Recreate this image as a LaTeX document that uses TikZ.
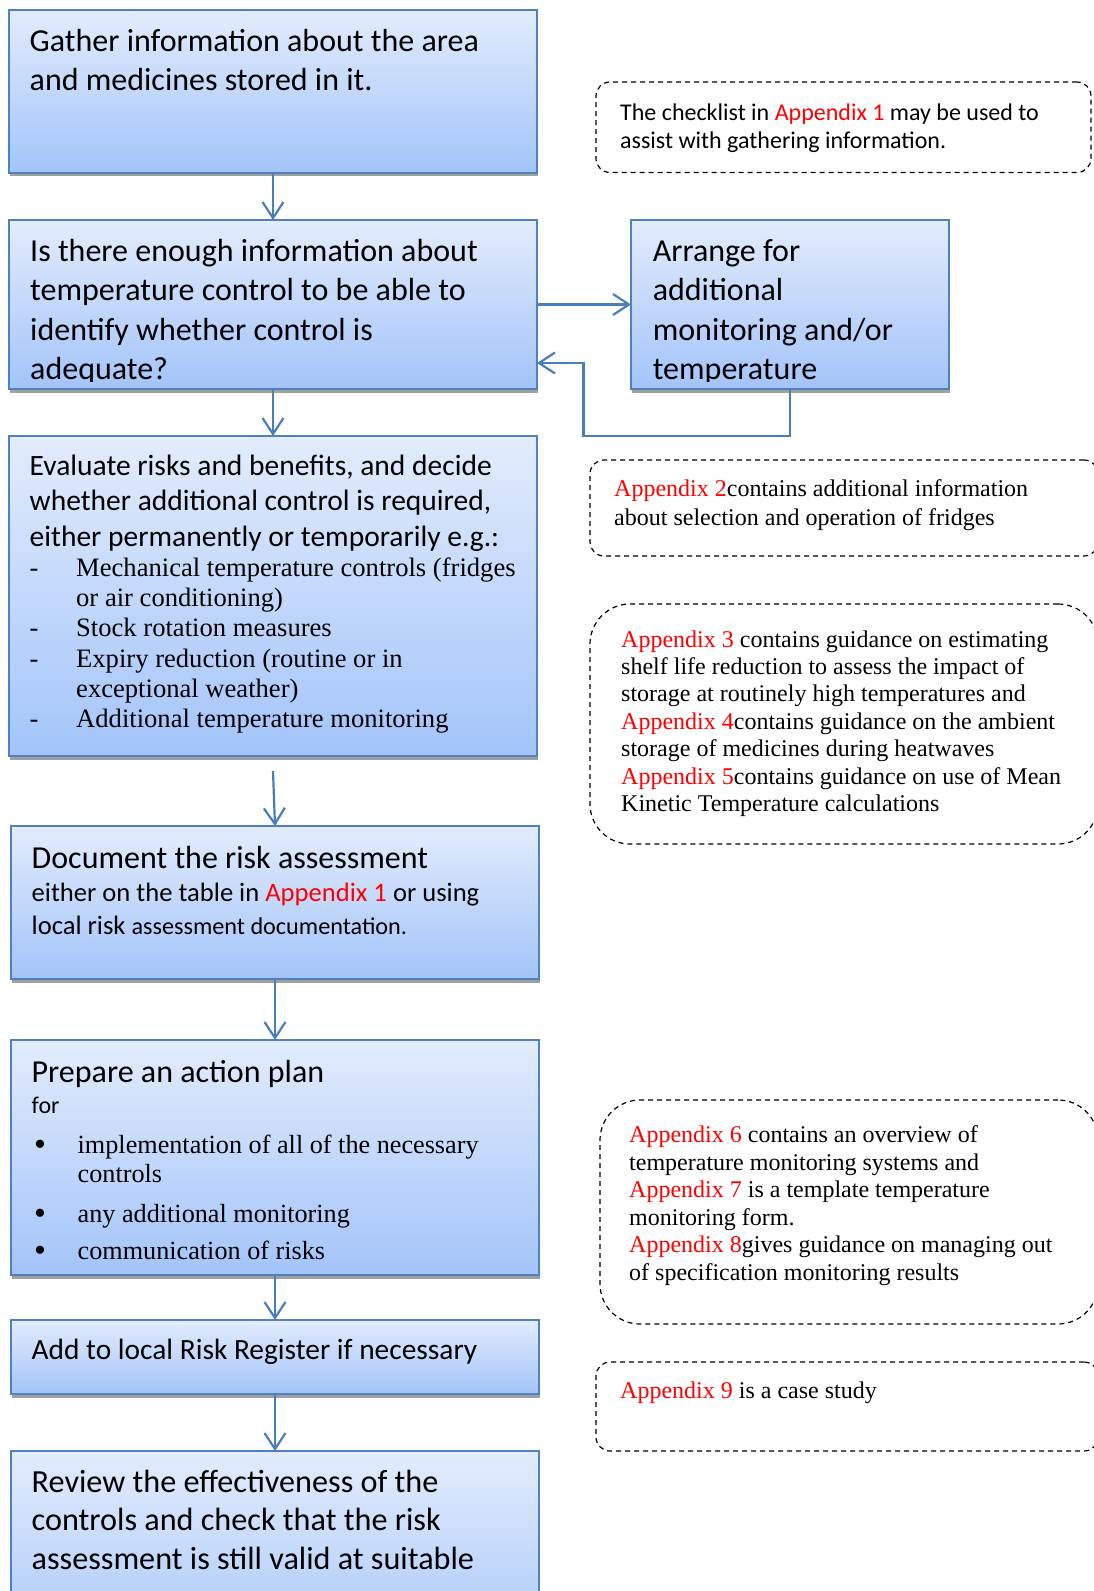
\documentclass[tikz,border=0pt]{standalone}
\usepackage{fontspec}
\setsansfont{Carlito}
\newfontfamily\notefont{Liberation Serif}
\usetikzlibrary{positioning,arrows.meta,shadows}

\definecolor{flowline}{RGB}{79,129,189}
\definecolor{flowtop}{RGB}{226,236,252}
\definecolor{flowbot}{RGB}{163,196,250}
\definecolor{flowshadow}{RGB}{160,160,160}
\definecolor{arrowblue}{RGB}{74,126,187}
\newcommand{\apx}[1]{\textcolor{red}{#1}}
\newcommand{\riskdash}{\makebox[46.5pt][l]{-}}
\newcommand{\riskbullet}{\makebox[46pt][l]{\hspace{2.5pt}\raisebox{-2pt}{\fontsize{34}{0}\selectfont\textbullet}}}

\begin{document}
\begin{tikzpicture}[x=1pt, y=-1pt,
    flow/.style = {draw=flowline, line width=2pt, top color=flowtop, bottom color=flowbot, minimum width=528pt, inner sep=0pt, outer sep=0pt, drop shadow={shadow xshift=1pt, shadow yshift=-3.5pt, fill=flowshadow, opacity=1}},
    note/.style = {draw=black, line width=1.2pt, dash pattern=on 5pt off 4pt, rounded corners=14pt, inner sep=0pt, outer sep=0pt, anchor=north west},
    txt/.style = {anchor=base west, inner sep=0pt, text width=520pt, execute at begin node={\spaceskip=0pt\xspaceskip=0pt\relax}, font=\sffamily\fontsize{32}{39.5}\selectfont},
    notetxt/.style = {txt, text width=470pt, font=\notefont\fontsize{24}{27.5}\selectfont},
    conn/.style = {draw=arrowblue, line width=2.2pt, -{Straight Barb[length=16pt, width=21pt]}}]
    \useasboundingbox (0,0) rectangle (1093,1591);

    % flow boxes
    \node[flow, minimum height=162.5pt, anchor=north west] (gather) at (9,10) {};
    \node[flow, minimum height=169pt, below right=47.5pt and 0pt of gather.south west] (enough) {};
    \node[flow, minimum width=318pt, minimum height=169pt, right=94pt of enough] (arrange) {};
    \node[flow, minimum height=320pt, below right=47pt and 0pt of enough.south west] (evaluate) {};
    \node[flow, minimum height=153pt, below right=70pt and 2pt of evaluate.south west] (document) {};
    \node[flow, minimum height=235pt, below right=61pt and 0pt of document.south west] (plan) {};
    \node[flow, minimum height=74pt, below right=45pt and 0pt of plan.south west] (register) {};
    \node[flow, minimum height=220pt, below right=57pt and 0pt of register.south west] (review) {};

    % texts of the flow boxes
    \node[txt] (gather-t) at ([xshift=20.5pt, yshift=-41pt]gather.north west) {Gather information about the area\\ and medicines stored in it.};
    \begin{scope}
      \clip (enough.north west) rectangle ([yshift=8pt]enough.south east);
      \node[txt] (enough-t) at ([xshift=21pt, yshift=-41pt]enough.north west) {Is there enough information about\\ temperature control to be able to\\ identify whether control is\\ adequate?};
    \end{scope}
    \begin{scope}
      \clip (arrange.north west) rectangle ([yshift=8pt]arrange.south east);
      \node[txt] (arrange-t) at ([xshift=21.6pt, yshift=-41pt]arrange.north west) {Arrange for\\ additional\\ monitoring and/or\\ temperature};
    \end{scope}
    \node[txt] (evaluate-t) at ([xshift=20.5pt, yshift=-39pt]evaluate.north west) {{\fontsize{29.5}{35.5}\selectfont Evaluate risks and benefits, and decide\\ whether additional control is required,\\ either permanently or temporarily e.g.:\par}
      {\notefont\fontsize{26.6}{30.3}\selectfont \riskdash Mechanical temperature controls (fridges\\ \hspace*{46.5pt}or air conditioning)\\ \riskdash Stock rotation measures\\ \riskdash Expiry reduction (routine or in\\ \hspace*{46.5pt}exceptional weather)\\ \riskdash Additional temperature monitoring\par}};
    \node[txt] (document-t) at ([xshift=20.5pt, yshift=-42pt]document.north west) {Document the risk assessment\par
      {\fontsize{26.6}{33}\selectfont either on the table in \apx{Appendix 1} or using\\ local risk {\fontsize{24.2}{33}\selectfont assessment documentation.}\par}};
    \node[txt] (plan-t) at ([xshift=20.5pt, yshift=-42pt]plan.north west) {Prepare an action plan\par
      {\fontsize{24}{31}\selectfont for\par}
      \vspace{11pt}
      {\notefont\fontsize{26.2}{29}\selectfont \riskbullet implementation of all of the necessary\\ \hspace*{46pt}controls\par
      \vspace{11pt}
      \riskbullet any additional monitoring\par
      \vspace{8pt}
      \riskbullet communication of risks\par}};
    \node[txt, font=\sffamily\fontsize{29.4}{38}\selectfont] (register-t) at ([xshift=20.5pt, yshift=-39pt]register.north west) {Add to local Risk Register if necessary};
    \node[txt, font=\sffamily\fontsize{32.2}{38.5}\selectfont] (review-t) at ([xshift=20.5pt, yshift=-41pt]review.north west) {Review the effectiveness of the\\ controls and check that the risk\\ assessment is still valid at suitable};

    % connectors
    \coordinate (loopback) at (583.5,436);
    \coordinate (evaluate-out) at ([yshift=-15pt]evaluate.south);
    \draw[conn] (gather) -- (enough);
    \draw[conn] (enough) -- (arrange);
    \draw[conn] (arrange.south) |- (loopback) |- ([yshift=-58.5pt]enough.east);
    \draw[conn] (enough) -- (evaluate);
    \draw[conn] (evaluate-out) -- (document.north);
    \draw[conn] (document) -- (plan);
    \draw[conn] (plan) -- (register);
    \draw[conn] (register) -- (review);

    % dashed notes
    \node[note, minimum width=495pt, minimum height=90.5pt] (checklist) at (596,82) {};
    \node[note, minimum width=508pt, minimum height=96pt] (fridges) at (590,460) {};
    \node[note, rounded corners=40pt, minimum width=508pt, minimum height=240pt] (shelflife) at (590,604) {};
    \node[note, rounded corners=40pt, minimum width=498pt, minimum height=224pt] (monitoring) at (600,1100) {};
    \node[note, minimum width=502pt, minimum height=89pt] (casestudy) at (596,1362) {};

    \node[notetxt, font=\sffamily\fontsize{24}{28.3}\selectfont] (checklist-t) at ([xshift=24pt, yshift=-38.5pt]checklist.north west) {The checklist in \apx{Appendix 1} may be used to\\ assist with gathering information.};
    \node[notetxt, font=\notefont\fontsize{24}{28.7}\selectfont] (fridges-t) at ([xshift=24pt, yshift=-36.5pt]fridges.north west) {\apx{Appendix 2}contains additional information\\ about selection and operation of fridges};
    \node[notetxt, font=\notefont\fontsize{24}{27.4}\selectfont] (shelflife-t) at ([xshift=31pt, yshift=-43pt]shelflife.north west) {\apx{Appendix 3} contains guidance on estimating\\ shelf life reduction to assess the impact of\\ storage at routinely high temperatures and\\ \apx{Appendix 4}contains guidance on the ambient\\ storage of medicines during heatwaves\\ \apx{Appendix 5}contains guidance on use of Mean\\ Kinetic Temperature calculations};
    \node[notetxt, font=\notefont\fontsize{24}{27.6}\selectfont] (monitoring-t) at ([xshift=29pt, yshift=-42.5pt]monitoring.north west) {\apx{Appendix 6} contains an overview of\\ temperature monitoring systems and\\ \apx{Appendix 7} is a template temperature\\ monitoring form.\\ \apx{Appendix 8}gives guidance on managing out\\ of specification monitoring results};
    \node[notetxt] (casestudy-t) at ([xshift=24pt, yshift=-36pt]casestudy.north west) {\apx{Appendix 9} is a case study};
\end{tikzpicture}
\end{document}
